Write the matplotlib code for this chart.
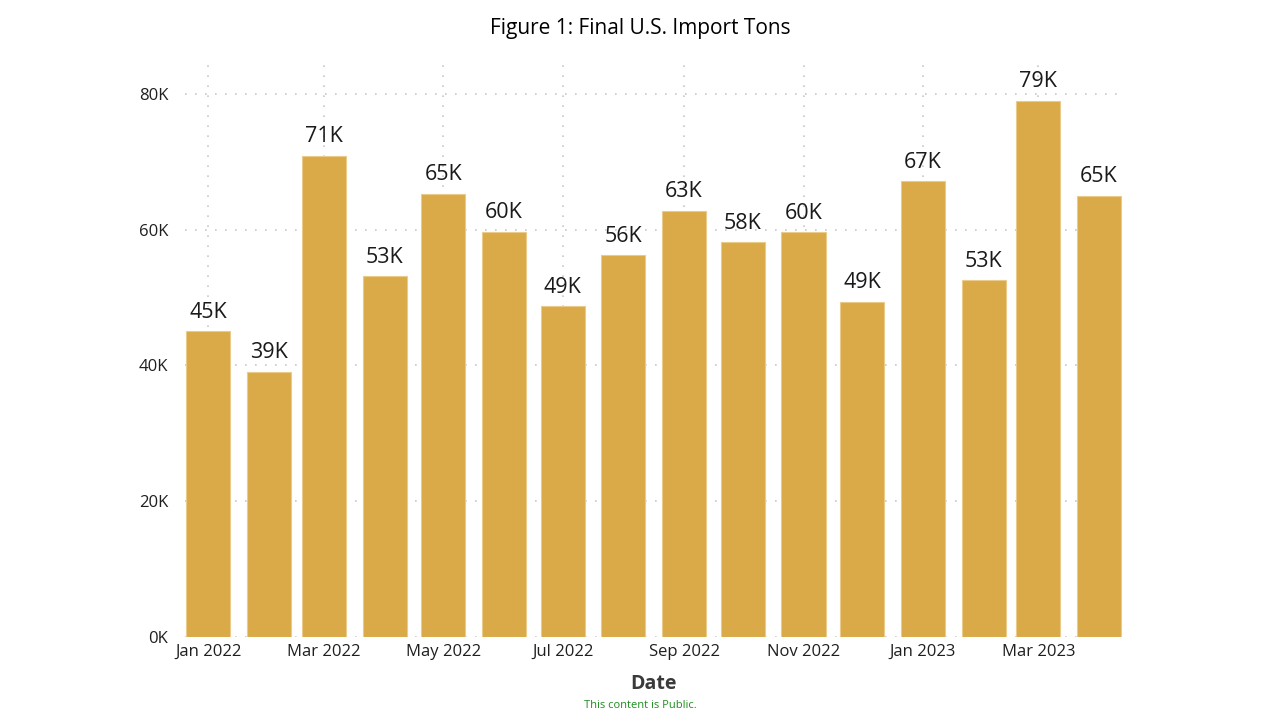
import matplotlib
matplotlib.use("Agg")
import matplotlib.pyplot as plt
import matplotlib.dates as mdates
import numpy as np
import pandas as pd

plt.rcParams['font.family'] = ['Open Sans', 'DejaVu Sans']

months = pd.date_range("2022-01-01", "2023-04-01", freq="MS")
values = [45.0, 39.1, 70.9, 53.1, 65.3, 59.7, 48.8, 56.2,
          62.8, 58.2, 59.6, 49.4, 67.2, 52.6, 79.0, 65.0]  # thousands of tons
labels = ["45K", "39K", "71K", "53K", "65K", "60K", "49K", "56K",
          "63K", "58K", "60K", "49K", "67K", "53K", "79K", "65K"]
yticks = [0, 20, 40, 60, 80]
ytick_labels = ["0K", "20K", "40K", "60K", "80K"]
tick_dates = pd.date_range("2022-01-01", "2023-03-01", freq="2MS")
tick_labels = [d.strftime("%b %Y") for d in tick_dates]

fig = plt.figure(figsize=(12.8, 7.2), dpi=100)
ax = fig.add_axes([0.1445, 0.115, 0.7325, 0.802])

x = mdates.date2num(months)
ax.bar(x, values, width=22.5, color="#DAAA48", edgecolor="#EBCB8B", linewidth=0.8, zorder=3)

for xi, v, lab in zip(x, values, labels):
    ax.text(xi, v + 1.2, lab, ha="center", va="bottom", fontsize=15.5, color="#1A1A1A", zorder=4)

ax.set_ylim(0, 85)
ax.set_xlim(x[0] - 12, x[-1] + 12)
ax.set_yticks(yticks)
ax.set_yticklabels(ytick_labels)
ax.set_xticks(mdates.date2num(tick_dates))
ax.set_xticklabels(tick_labels)
ax.tick_params(axis="both", length=0, labelsize=12, colors="#1F1F1F")
ax.tick_params(axis="x", pad=5)
ax.tick_params(axis="y", pad=12)
for s in ax.spines.values():
    s.set_visible(False)
ax.set_axisbelow(True)
ax.grid(True, which="major", axis="both", linestyle=(0, (1, 5)), color="#C8C8C8", linewidth=1.2)

ax.set_xlabel("Date", fontsize=14, fontweight="bold", color="#3A3A3A", labelpad=10)
fig.text(0.5, 0.960, "Figure 1: Final U.S. Import Tons", ha="center", va="center", fontsize=15, color="#000000")
fig.text(0.5, 0.020, "This content is Public.", ha="center", va="center", fontsize=8, color="#1E8C1E")

fig.savefig("out.png", dpi=100)
